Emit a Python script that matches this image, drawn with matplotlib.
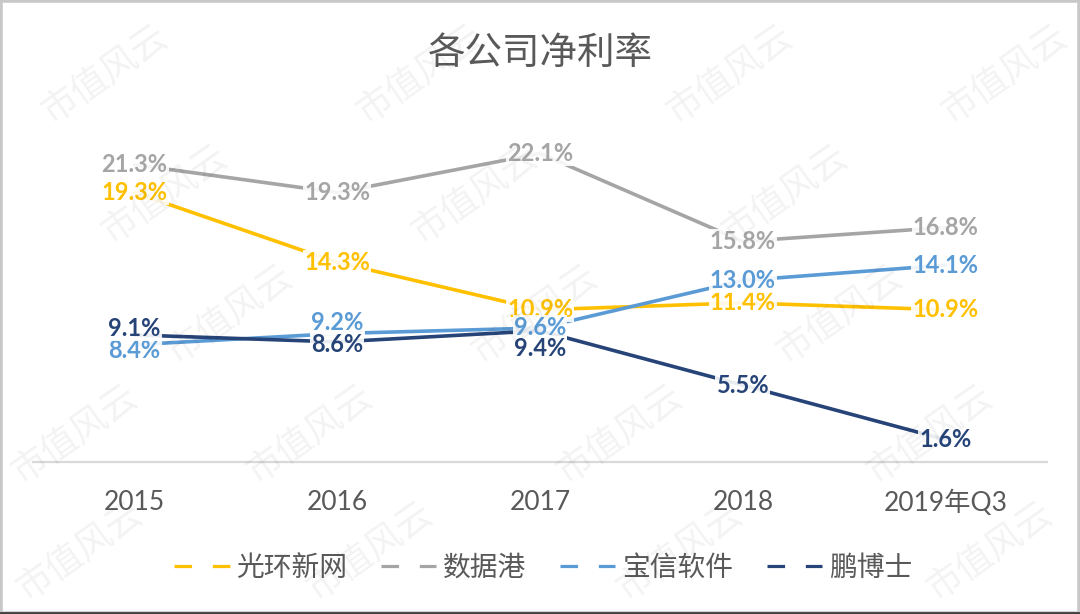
import matplotlib
matplotlib.use("Agg")
import matplotlib.pyplot as plt
from matplotlib.lines import Line2D
from matplotlib.patches import Rectangle

# data (net margin, %)
years = ["2015", "2016", "2017", "2018", "2019年Q3"]
companies = ["光环新网", "数据港", "宝信软件", "鹏博士"]
guanghuan = [19.3, 14.3, 10.9, 11.4, 10.9]
shujugang = [21.3, 19.3, 22.1, 15.8, 16.8]
baoxin = [8.4, 9.2, 9.6, 13.0, 14.1]
pengboshi = [9.1, 8.6, 9.4, 5.5, 1.6]

series = [guanghuan, shujugang, baoxin, pengboshi]
colors = ["#FFC000", "#A5A5A5", "#5B9BD5", "#264478"]
# vertical nudges (points) for a few labels that sit off the line
label_dy = [
    [0, 0, 0, 0, 0],
    [0, 0, 0, 0, 0],
    [-4.5, 8, 0, 0, 0],
    [4.5, -2, -13, 0, 0],
]

num_font = ["Lato", "Noto Sans CJK SC", "DejaVu Sans"]
cjk_font = ["Noto Sans CJK SC", "DejaVu Sans"]
text_grey = "#595959"

fig = plt.figure(figsize=(10.8, 6.14), dpi=100)
ax = fig.add_axes([0.0306, 0.2476, 0.9389, 0.5684])

x = list(range(len(years)))
for vals, col in zip(series, colors):
    ax.plot(x, vals, color=col, lw=2.6, solid_capstyle="round", zorder=2)
for vals, col, dys in zip(series, colors, label_dy):
    for xi, v, dy in zip(x, vals, dys):
        ax.annotate(f"{v:.1f}%", (xi, v), xytext=(0, dy), textcoords="offset points",
                    ha="center", va="center", fontsize=17, fontweight="bold",
                    color=col, family=num_font, zorder=3,
                    bbox=dict(boxstyle="square,pad=0.05", fc="white", ec="none", alpha=0.9))

ax.set_xlim(-0.5, len(years) - 0.5)
ax.set_ylim(0, 25)
ax.set_xticks(x)
ax.set_xticklabels(years, fontsize=19, color=text_grey, family=num_font)
ax.tick_params(axis="x", length=0, pad=20)
ax.set_yticks([])
for side in ["top", "right", "left"]:
    ax.spines[side].set_visible(False)
ax.spines["bottom"].set_color("#d9d9d9")
ax.spines["bottom"].set_linewidth(1.6)

fig.text(0.5, 0.913, "各公司净利率", ha="center", va="center", fontsize=27,
         color=text_grey, family=cjk_font)

handles = [Line2D([], [], color=c, lw=2.3, dashes=(5.5, 6.5)) for c in colors]
leg = fig.legend(handles, companies, loc="center", bbox_to_anchor=(0.503, 0.075),
                 ncol=4, frameon=False, handlelength=2.0, handletextpad=0.25,
                 columnspacing=1.2, prop={"family": cjk_font, "size": 20})
for t in leg.get_texts():
    t.set_color(text_grey)

# watermark grid
marks = [
    (75, [105, 420, 730, 1005]),
    (195, [165, 475, 785]),
    (315, [230, 535, 840]),
    (435, [75, 310, 620, 930]),
    (552, [80, 370, 680, 990]),
]
for py, xs in marks:
    for px in xs:
        fig.text(px / 1080, 1 - py / 614, "市值风云", rotation=35, ha="center", va="center",
                 fontsize=26, color="black", alpha=0.05, family=cjk_font, zorder=10)

# frame around the picture
fig.patches.append(Rectangle((0, 0), 1, 1, transform=fig.transFigure, fill=False,
                             ec="#c8c8c8", lw=4, zorder=20))
fig.add_artist(Line2D([0, 1], [0.002, 0.002], transform=fig.transFigure,
                      color="#404040", lw=2, zorder=21))

fig.savefig("out.png", dpi=100)
